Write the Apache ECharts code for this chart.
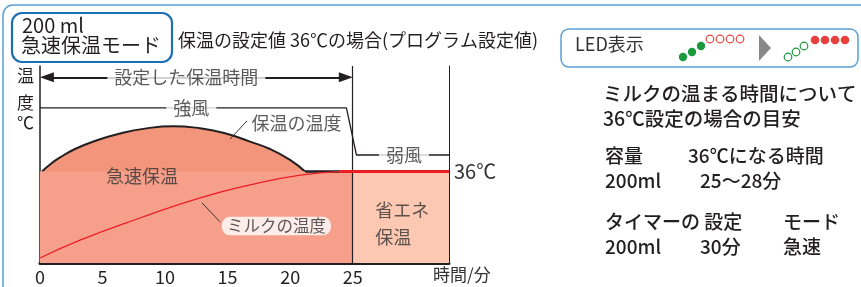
<!DOCTYPE html>
<html>
<head>
    <meta charset="utf-8">
    <title>保温の設定値</title>
    <script src="https://cdn.jsdelivr.net/npm/echarts@6/dist/echarts.min.js"></script>
    <style>
        html, body { margin: 0; padding: 0; background: #fff; }
    </style>
</head>
<body>
    <div id="main" style="width: 861px;height:287px;"></div>
    <script type="text/javascript">
        var myChart = echarts.init(document.getElementById('main'));

        // x軸 (分)
        var xTicks = [0, 5, 10, 15, 20, 25];
        var setTime = 25;        // 設定した保温時間
        var timeEnd = 32.7;      // 図の右端
        var holdTemp = 36;       // 保温の設定値

        // ミルクの温度 (読み取り値)
        var milkTemp = [[0, 11.4], [3.2, 16.5], [8.0, 22.8], [12.8, 28.5], [16.8, 32.2], [20.8, 35.0], [24.0, 36.0]];
        var milkFlat = [[24.0, 36], [32.7, 36]];
        // 保温の温度 (急速保温の山)
        var domeCurve = [[0.16, 36], [0.8, 38.0], [1.6, 40.0], [2.8, 42.4], [4.4, 44.7], [6.4, 46.8], [8.39, 48.2],
                         [10.63, 48.9], [12.79, 48.3], [14.79, 46.9], [16.79, 44.5], [18.39, 42.4], [19.99, 39.3], [21.19, 36]];
        var domeTail = [[21.19, 36], [24.0, 36]];
        // 風量 (強風 → 弱風)
        var windLine = [[0, 54.1], [24.5, 54.1], [25.3, 40.7], [32.7, 40.7]];
        var arrowLevel = 62.8;

        // 図中の注記
        var notes = [
            { name: '設定した保温時間', value: [11.7, 62.8] },
            { name: '強風', value: [12.1, 54.1] },
            { name: '弱風', value: [29.1, 40.7] },
            { name: '保温の温度', value: [20.5, 49.8] },
            { name: '急速保温', value: [8.15, 34.7] },
            { name: 'ミルクの温度', value: [18.9, 20.5] },
            { name: '省エネ\n保温', value: [26.8, 21.2] }
        ];
        var leaders = [
            [[15.19, 45.2], [16.55, 50.4]],
            [[12.95, 27.1], [14.39, 21.7]]
        ];

        var FONT = '"Noto Sans CJK JP", "Noto Sans", sans-serif';
        var INK = '#231f20';

        var noteLabels = notes.map(function (n) {
            var lab = { show: true, position: 'inside', formatter: n.name, color: '#333', fontSize: 18, fontFamily: FONT };
            if (n.name === '強風' || n.name === '弱風' || n.name === '設定した保温時間') {
                lab.backgroundColor = '#fff';
                lab.padding = [0, 7];
            }
            if (n.name === 'ミルクの温度') {
                lab.backgroundColor = '#fff';
                lab.padding = [1, 5];
                lab.borderRadius = 8;
                lab.fontSize = 16.5;
            }
            if (n.name === '省エネ\n保温') {
                lab.align = 'left';
                lab.lineHeight = 27;
            }
            return { name: n.name, value: n.value, label: lab };
        });

        var option = {
            animation: false,
            grid: { left: 40, right: 412, top: 66, bottom: 24 },
            xAxis: {
                type: 'value',
                min: 0,
                max: timeEnd,
                interval: 5,
                axisLine: { show: true, lineStyle: { color: INK, width: 3 } },
                axisTick: { show: false },
                splitLine: { show: false },
                axisLabel: {
                    margin: 5,
                    fontSize: 18,
                    color: INK,
                    fontFamily: FONT,
                    formatter: function (v) { return xTicks.indexOf(v) >= 0 ? String(v) : ''; }
                }
            },
            yAxis: [{
                type: 'value',
                min: 10,
                max: 66,
                axisLine: { show: true, lineStyle: { color: INK, width: 1.5 } },
                axisTick: { show: false },
                axisLabel: { show: false },
                splitLine: { show: false }
            }, {
                type: 'value',
                position: 'right',
                min: 10,
                max: 66,
                axisLine: { show: true, lineStyle: { color: INK, width: 1 } },
                axisTick: { show: false },
                axisLabel: { show: false },
                splitLine: { show: false }
            }],
            series: [
                {
                    // 急速保温の山
                    type: 'line',
                    data: domeCurve,
                    smooth: true,
                    symbol: 'none',
                    z: 1,
                    lineStyle: { color: INK, width: 2 },
                    areaStyle: { color: '#f3957a', origin: 'start', opacity: 1 }
                },
                {
                    type: 'line',
                    data: [[0, holdTemp], [setTime, holdTemp]],
                    symbol: 'none',
                    z: 2,
                    lineStyle: { width: 0 },
                    areaStyle: { color: '#f6a08c', origin: 'start', opacity: 1 }
                },
                {
                    type: 'line',
                    data: [[setTime, holdTemp], [timeEnd, holdTemp]],
                    symbol: 'none',
                    z: 2,
                    lineStyle: { width: 0 },
                    areaStyle: { color: '#fcc8b2', origin: 'start', opacity: 1 }
                },
                {
                    type: 'line',
                    data: domeTail,
                    symbol: 'none',
                    z: 3,
                    lineStyle: { color: INK, width: 2.5 }
                },
                {
                    // ミルクの温度
                    type: 'line',
                    data: milkTemp,
                    smooth: true,
                    symbol: 'none',
                    z: 4,
                    lineStyle: { color: '#ec1c24', width: 1.2 }
                },
                {
                    type: 'line',
                    data: milkFlat,
                    symbol: 'none',
                    z: 5,
                    lineStyle: { color: '#ec1c24', width: 3 },
                    endLabel: {
                        show: true,
                        formatter: holdTemp + '℃',
                        distance: 5,
                        color: '#333',
                        fontSize: 20,
                        fontFamily: FONT
                    }
                },
                {
                    // 風量の線
                    type: 'line',
                    data: windLine,
                    symbol: 'none',
                    z: 5,
                    lineStyle: { color: INK, width: 1.3 },
                    markLine: {
                        silent: true,
                        symbol: 'none',
                        animation: false,
                        label: { show: false },
                        data: [
                            [{ coord: [setTime, 10], lineStyle: { color: INK, width: 1.2, type: 'solid' } },
                             { coord: [setTime, 66] }],
                            [{
                                coord: [0.55, arrowLevel],
                                symbol: 'triangle',
                                lineStyle: { color: INK, width: 2, type: 'solid' }
                            }, { coord: [setTime - 0.55, arrowLevel], symbol: 'triangle' }]
                        ].concat(leaders.map(function (l) {
                            return [{ coord: l[0], lineStyle: { color: '#333', width: 1, type: 'solid' } },
                                    { coord: l[1] }];
                        })),
                        symbolSize: [10, 14]
                    }
                },
                {
                    type: 'scatter',
                    data: noteLabels,
                    symbolSize: 0,
                    z: 10,
                    silent: true
                }
            ],
            graphic: [
                // 外枠
                { type: 'rect', shape: { x: 3, y: 5, width: 900, height: 400, r: 10 }, style: { fill: null, stroke: '#5b9fd6', lineWidth: 1.5 }, z: -1 },
                // タイトル
                { type: 'rect', shape: { x: 12, y: 13, width: 160, height: 49, r: 10 }, style: { fill: '#fff', stroke: '#1b6fb5', lineWidth: 2.2 } },
                { type: 'text', left: 22, top: 15, style: { text: '200 ml', font: '20px ' + FONT, fill: INK } },
                { type: 'text', left: 21, top: 35, style: { text: '急速保温モード', font: '20px ' + FONT, fill: INK } },
                { type: 'text', left: 178, top: 31, style: { text: '保温の設定値 36℃の場合(プログラム設定値)', font: '18px ' + FONT, fill: INK } },
                // 縦軸名
                { type: 'text', left: 17, top: 67, style: { text: '温', font: '17px ' + FONT, fill: INK } },
                { type: 'text', left: 17, top: 94, style: { text: '度', font: '17px ' + FONT, fill: INK } },
                { type: 'text', left: 17, top: 114, style: { text: '℃', font: '17px ' + FONT, fill: INK } },
                // 横軸名
                { type: 'text', left: 433, top: 266, style: { text: '時間/分', font: '17px ' + FONT, fill: '#333' } },
                // LED表示
                { type: 'rect', shape: { x: 561, y: 29, width: 297, height: 38, r: 8 }, style: { fill: '#fff', stroke: '#5b9fd6', lineWidth: 1.5 } },
                { type: 'text', left: 575, top: 35, style: { text: 'LED表示', font: '18px ' + FONT, fill: '#333' } },
                { type: 'circle', shape: { cx: 683, cy: 57, r: 4.2 }, style: { fill: '#1a9a3c' } },
                { type: 'circle', shape: { cx: 692, cy: 52, r: 4.2 }, style: { fill: '#1a9a3c' } },
                { type: 'circle', shape: { cx: 701, cy: 46, r: 4.2 }, style: { fill: '#1a9a3c' } },
                { type: 'circle', shape: { cx: 710, cy: 39, r: 3.8 }, style: { fill: '#fff', stroke: '#e8403a', lineWidth: 1.2 } },
                { type: 'circle', shape: { cx: 720, cy: 39, r: 3.8 }, style: { fill: '#fff', stroke: '#e8403a', lineWidth: 1.2 } },
                { type: 'circle', shape: { cx: 730, cy: 39, r: 3.8 }, style: { fill: '#fff', stroke: '#e8403a', lineWidth: 1.2 } },
                { type: 'circle', shape: { cx: 740, cy: 39, r: 3.8 }, style: { fill: '#fff', stroke: '#e8403a', lineWidth: 1.2 } },
                { type: 'polygon', shape: { points: [[759, 35], [771, 48], [759, 61]] }, style: { fill: '#888' } },
                { type: 'circle', shape: { cx: 788, cy: 57, r: 3.8 }, style: { fill: '#fff', stroke: '#1a9a3c', lineWidth: 1.2 } },
                { type: 'circle', shape: { cx: 796, cy: 52, r: 3.8 }, style: { fill: '#fff', stroke: '#1a9a3c', lineWidth: 1.2 } },
                { type: 'circle', shape: { cx: 804, cy: 46, r: 3.8 }, style: { fill: '#fff', stroke: '#1a9a3c', lineWidth: 1.2 } },
                { type: 'circle', shape: { cx: 815, cy: 40, r: 4.3 }, style: { fill: '#e8403a' } },
                { type: 'circle', shape: { cx: 825, cy: 40, r: 4.3 }, style: { fill: '#e8403a' } },
                { type: 'circle', shape: { cx: 835, cy: 40, r: 4.3 }, style: { fill: '#e8403a' } },
                { type: 'circle', shape: { cx: 845, cy: 40, r: 4.3 }, style: { fill: '#e8403a' } },
                // 目安
                { type: 'text', left: 603, top: 84, style: { text: 'ミルクの温まる時間について', font: '500 19.5px ' + FONT, fill: INK } },
                { type: 'text', left: 603, top: 109, style: { text: '36℃設定の場合の目安', font: '500 19.5px ' + FONT, fill: INK } },
                { type: 'text', left: 605, top: 146, style: { text: '容量', font: '500 19px ' + FONT, fill: INK } },
                { type: 'text', left: 688, top: 146, style: { text: '36℃になる時間', font: '500 19px ' + FONT, fill: INK } },
                { type: 'text', left: 605, top: 171, style: { text: '200ml', font: '500 19px ' + FONT, fill: INK } },
                { type: 'text', left: 700, top: 171, style: { text: '25〜28分', font: '500 19px ' + FONT, fill: INK } },
                { type: 'text', left: 605, top: 212, style: { text: 'タイマーの 設定', font: '500 19px ' + FONT, fill: INK } },
                { type: 'text', left: 783, top: 212, style: { text: 'モード', font: '500 19px ' + FONT, fill: INK } },
                { type: 'text', left: 605, top: 237, style: { text: '200ml', font: '500 19px ' + FONT, fill: INK } },
                { type: 'text', left: 700, top: 237, style: { text: '30分', font: '500 19px ' + FONT, fill: INK } },
                { type: 'text', left: 783, top: 237, style: { text: '急速', font: '500 19px ' + FONT, fill: INK } }
            ]
        };

        myChart.setOption(option);
    </script>
</body>
</html>
